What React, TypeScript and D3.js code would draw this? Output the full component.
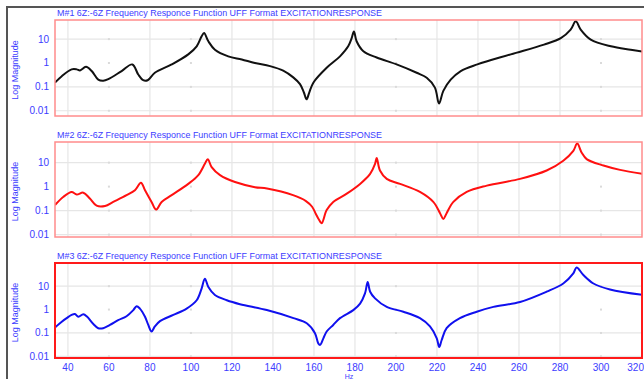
import React, { useEffect, useRef } from "react";
import * as d3 from "d3";

// Hz / magnitude pairs
const hz1 = [33.7, 37.0, 41.8, 44.3, 45.9, 48.8, 51.6, 54.8, 57.2, 59.7, 66.2, 71.4, 74.3, 76.7, 78.9, 82.4, 90.6, 98.7, 102.8, 105.2, 106.4, 108.5, 111.7, 118.2, 124.8, 131.2, 138.6, 145.0, 149.9, 153.2, 155.1, 156.4, 157.7, 159.7, 166.2, 172.7, 176.7, 178.4, 179.5, 180.8, 184.1, 190.6, 200.3, 210.1, 215.0, 219.0, 221.0, 223.1, 226.7, 231.6, 239.7, 256.0, 272.2, 280.4, 285.2, 287.7, 290.1, 295.0, 304.8, 314.5, 320.5];
const mag1 = [0.15, 0.28, 0.54, 0.54, 0.49, 0.69, 0.46, 0.2, 0.18, 0.21, 0.46, 0.87, 0.33, 0.19, 0.19, 0.39, 0.87, 2.3, 5.0, 13, 18, 8.1, 3.6, 1.9, 1.4, 1.0, 0.74, 0.48, 0.25, 0.13, 0.058, 0.03, 0.058, 0.15, 0.63, 1.9, 5.0, 11, 21, 8.1, 3.1, 1.7, 0.87, 0.39, 0.24, 0.093, 0.02, 0.068, 0.2, 0.46, 0.87, 2.3, 5.9, 11, 25, 56, 25, 9.5, 5.0, 3.6, 3.0];

const hz2 = [33.7, 37.7, 41.8, 44.3, 47.5, 50.7, 54.0, 58.1, 62.1, 68.6, 72.7, 75.6, 77.6, 80.8, 83.0, 85.7, 90.6, 98.7, 103.6, 106.8, 108.2, 110.1, 114.2, 121.5, 131.2, 137.1, 149.8, 156.1, 159.1, 161.0, 163.0, 163.8, 166.2, 169.4, 176.0, 182.5, 187.4, 189.8, 190.6, 192.2, 195.5, 202.0, 211.7, 218.2, 221.5, 223.1, 224.7, 228.0, 234.5, 244.3, 260.5, 273.5, 281.6, 286.5, 288.4, 290.6, 293.0, 301.2, 309.3, 320.5];
const mag2 = [0.17, 0.37, 0.6, 0.47, 0.56, 0.32, 0.16, 0.155, 0.23, 0.44, 0.71, 1.45, 0.71, 0.23, 0.11, 0.23, 0.44, 1.3, 3.0, 8.9, 14, 6.5, 3.0, 1.55, 0.95, 0.83, 0.44, 0.25, 0.145, 0.07, 0.035, 0.03, 0.105, 0.23, 0.51, 1.3, 3.4, 8.9, 15.5, 4.7, 2.1, 1.3, 0.6, 0.23, 0.078, 0.045, 0.078, 0.23, 0.6, 1.1, 2.1, 4.7, 12, 31, 62, 26, 14, 7.6, 5.0, 3.4];

const hz3 = [33.7, 37.0, 39.4, 41.8, 43.4, 45.1, 47.5, 49.4, 52.4, 54.8, 57.2, 60.5, 64.5, 68.6, 71.9, 73.5, 75.1, 77.6, 79.2, 80.8, 82.4, 84.9, 91.4, 97.9, 102.8, 105.2, 106.8, 108.5, 111.7, 117.5, 123.9, 137.0, 150.0, 156.5, 160.5, 162.1, 163.0, 164.6, 166.2, 169.4, 172.7, 179.2, 182.5, 184.9, 186.2, 187.4, 189.8, 195.5, 203.6, 211.7, 216.6, 219.9, 221.1, 222.3, 224.7, 231.2, 239.4, 247.5, 260.5, 273.5, 281.6, 286.5, 288.1, 291.4, 296.3, 304.4, 320.5];
const mag3 = [0.17, 0.3, 0.43, 0.59, 0.65, 0.49, 0.63, 0.49, 0.24, 0.16, 0.16, 0.22, 0.35, 0.52, 0.95, 1.4, 1.1, 0.49, 0.22, 0.115, 0.19, 0.32, 0.59, 1.1, 2.5, 7.9, 21, 9.3, 4.2, 2.5, 1.7, 0.95, 0.43, 0.26, 0.098, 0.036, 0.031, 0.059, 0.115, 0.22, 0.43, 0.95, 1.8, 4.9, 15, 5.8, 3.0, 1.3, 0.81, 0.43, 0.19, 0.059, 0.025, 0.05, 0.16, 0.43, 0.81, 1.3, 2.1, 5.8, 13, 35, 63, 30, 13, 7.2, 4.2];

const titles = [
  "M#1 6Z:-6Z Frequency Responce Function UFF Format EXCITATIONRESPONSE",
  "M#2 6Z:-6Z Frequency Responce Function UFF Format EXCITATIONRESPONSE",
  "M#3 6Z:-6Z Frequency Responce Function UFF Format EXCITATIONRESPONSE",
];
const yTicks = [10, 1, 0.1, 0.01];
const yTickLabels = ["10", "1", "0.1", "0.01"];
const xTicks = [40, 60, 80, 100, 120, 140, 160, 180, 200, 220, 240, 260, 280, 300, 320];
// the dotted grid shows up as solid lines at some ticks and as dots at others
const gridX = [40, 80, 120, 140, 160, 180, 220, 240, 260, 280];
const dotX = [60, 100, 200, 300];
const gridY = [10, 0.1, 0.01];

const W = 644;
const H = 379;
const left = 55;
const right = 642;
const textBlue = "#3c3cff";
const font = "Liberation Sans, Arial, sans-serif";

const panels = [
  { hz: hz1, mag: mag1, color: "#111111", top: 20, bottom: 116, lo: -2.22, hi: 1.8, border: "#ff8c8c", bw: 1.5 },
  { hz: hz2, mag: mag2, color: "#ff1010", top: 142, bottom: 237, lo: -2.1, hi: 1.86, border: "#ff8c8c", bw: 1.5 },
  { hz: hz3, mag: mag3, color: "#1010ee", top: 263, bottom: 358, lo: -2.07, hi: 1.99, border: "#ff1a1a", bw: 2 },
];

export default function App() {
  const ref = useRef<SVGSVGElement>(null);

  useEffect(() => {
    const svg = d3.select(ref.current);
    svg.selectAll("*").remove();

    const x = d3.scaleLinear().domain([33.7, 320]).range([left, right]);

    // outer frame (left and top edge only visible)
    svg.append("path")
      .attr("d", `M7,${H} L7,7 L${W},7`)
      .attr("fill", "none")
      .attr("stroke", "#555")
      .attr("stroke-width", 2);

    panels.forEach((p, i) => {
      const y = d3.scaleLog().domain([Math.pow(10, p.lo), Math.pow(10, p.hi)]).range([p.bottom, p.top]);
      const g = svg.append("g");

      // grid
      g.selectAll(".vg").data(gridX).enter()
        .append("line")
        .attr("x1", d => x(d)).attr("x2", d => x(d))
        .attr("y1", p.top).attr("y2", p.bottom)
        .attr("stroke", "#e6e6e6").attr("stroke-width", 1.2);
      g.selectAll(".hg").data(gridY).enter()
        .append("line")
        .attr("x1", left).attr("x2", right)
        .attr("y1", d => y(d)).attr("y2", d => y(d))
        .attr("stroke", "#e6e6e6").attr("stroke-width", 1.2);
      const dots = dotX.flatMap(dx => yTicks.map(dy => [dx, dy]));
      g.selectAll(".dot").data(dots).enter()
        .append("rect")
        .attr("x", d => x(d[0]) - 1).attr("y", d => y(d[1]) - 1)
        .attr("width", 2).attr("height", 2)
        .attr("fill", "#dadada");

      // trace
      const clipId = `clip${i}`;
      svg.append("clipPath").attr("id", clipId)
        .append("rect")
        .attr("x", left).attr("y", p.top)
        .attr("width", right - left).attr("height", p.bottom - p.top);

      const pts = p.hz.map((h, k) => [h, p.mag[k]] as [number, number]);
      const line = d3.line<[number, number]>()
        .x(d => x(d[0]))
        .y(d => y(d[1]))
        .curve(d3.curveCatmullRom.alpha(0.5));
      g.append("path")
        .datum(pts)
        .attr("d", line)
        .attr("clip-path", `url(#${clipId})`)
        .attr("fill", "none")
        .attr("stroke", p.color)
        .attr("stroke-width", 2)
        .attr("stroke-linejoin", "round");

      // plot border
      g.append("rect")
        .attr("x", left).attr("y", p.top)
        .attr("width", right - left).attr("height", p.bottom - p.top)
        .attr("fill", "none")
        .attr("stroke", p.border)
        .attr("stroke-width", p.bw);

      // y tick labels
      g.selectAll(".yl").data(yTicks).enter()
        .append("text")
        .attr("x", 49)
        .attr("y", d => y(d) + 3.5)
        .attr("text-anchor", "end")
        .attr("fill", textBlue)
        .style("font-family", font)
        .style("font-size", "10px")
        .text((d, k) => yTickLabels[k]);

      // title
      g.append("text")
        .attr("x", 57)
        .attr("y", p.top - 4)
        .attr("fill", textBlue)
        .attr("textLength", 325)
        .attr("lengthAdjust", "spacingAndGlyphs")
        .style("font-family", font)
        .style("font-size", "9px")
        .text(titles[i]);

      // y axis title
      g.append("text")
        .attr("transform", `translate(18, ${(p.top + p.bottom) / 2 + 2}) rotate(-90)`)
        .attr("text-anchor", "middle")
        .attr("fill", textBlue)
        .style("font-family", font)
        .style("font-size", "9px")
        .text("Log Magnitude");
    });

    // x tick labels under last panel
    const last = panels[panels.length - 1];
    svg.selectAll(".xl").data(xTicks).enter()
      .append("text")
      .attr("x", d => x(d))
      .attr("y", last.bottom + 13)
      .attr("text-anchor", (d, k) => (k === xTicks.length - 1 ? "end" : "middle"))
      .attr("dx", (d, k) => (k === xTicks.length - 1 ? 2 : 0))
      .attr("fill", textBlue)
      .style("font-family", font)
      .style("font-size", "10px")
      .text(d => String(d));

    svg.append("text")
      .attr("x", 349)
      .attr("y", 379)
      .attr("text-anchor", "middle")
      .attr("fill", textBlue)
      .style("font-family", font)
      .style("font-size", "7px")
      .text("Hz");
  }, []);

  return (
    <svg
      ref={ref}
      width={W}
      height={H}
      style={{ position: "absolute", left: 0, top: 0, background: "#fff" }}
    />
  );
}
